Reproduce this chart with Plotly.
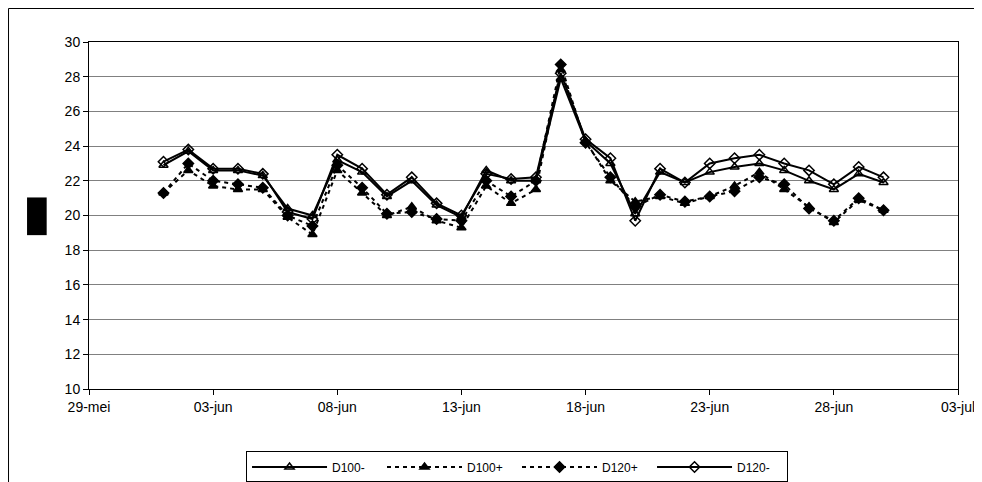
import plotly.graph_objects as go

dates = ["2009-06-%02d" % d for d in range(1, 31)]

d100_min = [22.9, 23.7, 22.6, 22.6, 22.3, 20.4, 20.0, 23.2, 22.5, 21.1,
            22.0, 20.6, 19.9, 22.6, 22.0, 22.0, 27.9, 24.3, 23.0, 20.1,
            22.5, 21.9, 22.5, 22.8, 23.0, 22.6, 22.0, 21.5, 22.4, 21.9]
d100_plus = [21.3, 22.6, 21.7, 21.5, 21.5, 19.9, 18.9, 22.6, 21.3, 20.0,
             20.5, 19.7, 19.3, 21.7, 20.7, 21.5, 28.4, 24.3, 22.0, 20.8,
             21.1, 20.7, 21.1, 21.7, 22.5, 21.5, 20.5, 19.6, 20.9, 20.3]
d120_plus = [21.3, 23.0, 22.0, 21.8, 21.6, 20.0, 19.4, 22.9, 21.6, 20.1,
             20.2, 19.8, 19.7, 22.0, 21.1, 22.0, 28.7, 24.2, 22.2, 20.5,
             21.2, 20.8, 21.1, 21.4, 22.2, 21.8, 20.4, 19.7, 21.0, 20.3]
d120_min = [23.1, 23.8, 22.7, 22.7, 22.4, 20.2, 19.8, 23.5, 22.7, 21.2,
            22.2, 20.7, 20.0, 22.4, 22.1, 22.2, 28.2, 24.4, 23.3, 19.7,
            22.7, 21.9, 23.0, 23.3, 23.5, 23.0, 22.6, 21.8, 22.8, 22.2]

tick_vals = ["2009-05-29", "2009-06-03", "2009-06-08", "2009-06-13",
             "2009-06-18", "2009-06-23", "2009-06-28", "2009-07-03"]
tick_text = ["29-mei", "03-jun", "08-jun", "13-jun", "18-jun", "23-jun", "28-jun", "03-jul"]
y_ticks = list(range(10, 31, 2))

fig = go.Figure()
series = [
    ("D100-", d100_min, "solid", "triangle-up-open"),
    ("D100+", d100_plus, "4px,4px", "triangle-up"),
    ("D120+", d120_plus, "4px,4px", "diamond"),
    ("D120-", d120_min, "solid", "diamond-open"),
]
for name, vals, dash, sym in series:
    fig.add_trace(go.Scatter(
        x=dates, y=vals, name=name, mode="lines+markers",
        line=dict(color="black", width=2, dash=dash),
        marker=dict(symbol=sym, size=8, color="black",
                    line=dict(color="black", width=1.5)),
    ))

# page body adds an 8px offset, so the figure is sized 8px smaller
fig.update_layout(
    width=974, height=474,
    margin=dict(l=81, r=24, t=34, b=93, autoexpand=False),
    paper_bgcolor="white", plot_bgcolor="white",
    font=dict(family="Liberation Sans, Arial, sans-serif", size=12, color="black"),
    showlegend=True,
    legend=dict(orientation="h", x=0.1807, xanchor="left", y=-0.18, yanchor="top",
                bordercolor="black", borderwidth=1, bgcolor="white",
                font=dict(size=12), itemwidth=75, entrywidth=45,
                tracegroupgap=0),
)
fig.update_xaxes(
    type="date", range=["2009-05-29", "2009-07-03"],
    tickmode="array", tickvals=tick_vals, ticktext=tick_text,
    tickfont=dict(size=14),
    showgrid=False, showline=True, linecolor="black", linewidth=1, mirror=True,
    ticks="outside", ticklen=5, tickcolor="black", zeroline=False, automargin=False,
)
fig.update_yaxes(
    range=[10, 30], tickmode="array", tickvals=y_ticks,
    tickfont=dict(size=14),
    showgrid=True, gridcolor="#808080", gridwidth=1,
    showline=True, linecolor="black", linewidth=1, mirror=True,
    ticks="outside", ticklen=5, tickcolor="black", zeroline=False, automargin=False,
)
# y-axis title rendered as solid black block in the reference
fig.add_shape(type="rect", xref="paper", yref="paper",
              x0=-0.0713, x1=-0.0487, y0=0.4434, y1=0.552,
              fillcolor="black", line=dict(width=0))
# chart-area border
fig.add_shape(type="rect", xref="paper", yref="paper",
              x0=-0.0926, x1=1.05, y0=-0.35, y1=1.0965,
              fillcolor="rgba(0,0,0,0)", line=dict(color="black", width=1))

fig.write_html("out.html")
